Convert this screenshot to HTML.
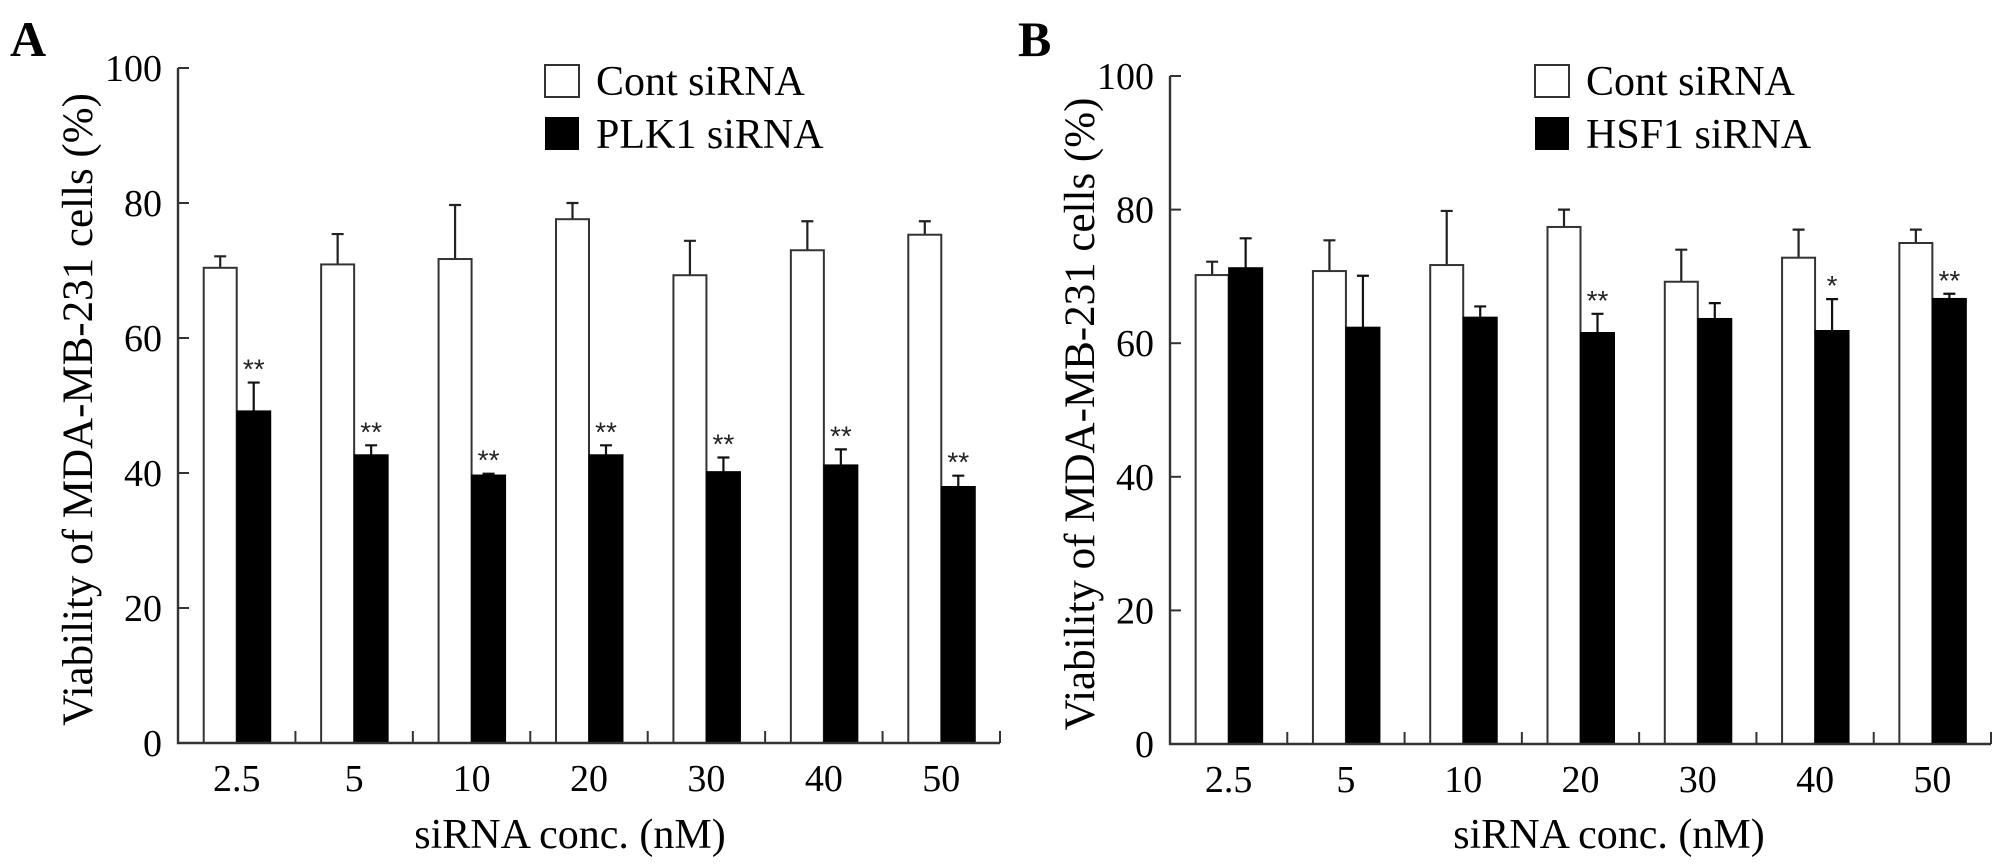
<!DOCTYPE html>
<html><head><meta charset="utf-8">
<style>
html,body{margin:0;padding:0;background:#fff;}
svg{display:block;font-family:"Liberation Serif",serif;}
</style></head>
<body>
<svg id="fig" width="2008" height="868" viewBox="0 0 2008 868" xmlns="http://www.w3.org/2000/svg"></svg>
<script>
const categories = ["2.5","5","10","20","30","40","50"];
const yTicks = [0,20,40,60,80,100];
const aContMean = [70.4,70.9,71.7,77.6,69.3,73.0,75.3];
const aContErr  = [1.7,4.5,8.0,2.4,5.1,4.3,2.0];
const aKdMean   = [49.2,42.7,39.7,42.7,40.2,41.2,38.0];
const aKdErr    = [4.2,1.4,0.2,1.4,2.1,2.3,1.6];
const aSig      = ["**","**","**","**","**","**","**"];
const bContMean = [70.2,70.8,71.7,77.4,69.2,72.8,75.0];
const bContErr  = [2.0,4.6,8.1,2.6,4.8,4.2,2.0];
const bKdMean   = [71.3,62.4,63.9,61.6,63.7,61.9,66.7];
const bKdErr    = [4.4,7.7,1.6,2.8,2.3,4.7,0.7];
const bSig      = ["","","","**","","*","**"];

const NS="http://www.w3.org/2000/svg";
const svg=document.getElementById('fig');
function mk(tag,attrs,parent){const e=document.createElementNS(NS,tag);for(const k in attrs)e.setAttribute(k,attrs[k]);(parent||svg).appendChild(e);return e;}

function panel(o){
  const g=mk('g',{});
  
  
  const y=v=>o.y0-(v/100)*(o.y0-o.y100);
  const gw=(o.xEnd-o.x0)/categories.length;
  const cx=i=>o.x0+gw*(i+0.5);
  const L=mk('text',{x:o.letterX,y:56,'font-size':50,'font-weight':'bold'},g);L.textContent=o.letter;
  
  
  for(let i=0;i<categories.length;i++){
    const c=cx(i);
    const e1=mk('path',{d:`M${c-16.5} ${y(o.cm[i])} V${y(o.cm[i]+o.ce[i])} M${c-22.5} ${y(o.cm[i]+o.ce[i])} H${c-10.5}`,stroke:'#222','stroke-width':2.2,fill:'none'},g);
    
    
    const r1=mk('rect',{x:c-33,y:y(o.cm[i]),width:33,height:o.y0-y(o.cm[i]),fill:'#fff',stroke:'#333','stroke-width':2},g);
    
    
    const e2=mk('path',{d:`M${c+17} ${y(o.km[i])} V${y(o.km[i]+o.ke[i])} M${c+11} ${y(o.km[i]+o.ke[i])} H${c+23}`,stroke:'#111','stroke-width':2.2,fill:'none'},g);
    
    
    const r2=mk('rect',{x:c,y:y(o.km[i]),width:34,height:o.y0-y(o.km[i]),fill:'#000',stroke:'#000','stroke-width':1},g);
    
    
    if(o.sig[i]){
      const s=mk('text',{x:c+17,y:y(o.km[i]+o.ke[i])-4,'font-size':28,'text-anchor':'middle','font-family':'Liberation Sans, sans-serif',fill:'#222'},g);
      s.textContent=o.sig[i];
      
      
    }
    const t=mk('text',{x:c,y:o.y0+48,'font-size':38,'text-anchor':'middle'},g);t.textContent=categories[i];
    
    
    const tk=mk('line',{x1:o.x0+gw*(i+1),x2:o.x0+gw*(i+1),y1:o.y0,y2:o.y0-12,stroke:'#333','stroke-width':2},g);
    
    
  }
  const ax=mk('path',{d:`M${o.x0} ${o.y100} V${o.y0} H${o.xEnd}`,stroke:'#333','stroke-width':2.4,fill:'none'},g);
  
  
  yTicks.forEach(v=>{
    const tl=mk('line',{x1:o.x0,x2:o.x0+11,y1:y(v),y2:y(v),stroke:'#333','stroke-width':2},g);
    
    
    const tt=mk('text',{x:o.x0-16,y:y(v)+13,'font-size':38,'text-anchor':'end'},g);tt.textContent=v;
    
    
  });
  const yt=mk('text',{x:0,y:0,'font-size':43,'text-anchor':'middle',transform:`translate(${o.ytX},${(o.y0+o.y100)/2+4}) rotate(-90)`},g);
  yt.textContent='Viability of MDA-MB-231  cells  (%)';
  
  
  const xt=mk('text',{x:o.xtX,y:848,'font-size':42,'text-anchor':'middle'},g);xt.textContent='siRNA conc. (nM)';
  
  
  const l1=mk('rect',{x:o.legX,y:65,width:34,height:32,fill:'#fff',stroke:'#333','stroke-width':2},g);
  
  
  const l1t=mk('text',{x:o.legX+51,y:95,'font-size':42},g);l1t.textContent='Cont siRNA';
  
  
  const l2=mk('rect',{x:o.legX,y:117,width:34,height:33,fill:'#000'},g);
  
  
  const l2t=mk('text',{x:o.legX+51,y:148,'font-size':42},g);l2t.textContent=o.kdName;
  
  
}
panel({id:'a',letter:'A',letterX:10,x0:178,xEnd:1000,y0:743,y100:68,cm:aContMean,ce:aContErr,km:aKdMean,ke:aKdErr,sig:aSig,ytX:92,xtX:570,legX:545,kdName:'PLK1 siRNA'});
panel({id:'b',letter:'B',letterX:1018,x0:1170,xEnd:1991,y0:744,y100:76,cm:bContMean,ce:bContErr,km:bKdMean,ke:bKdErr,sig:bSig,ytX:1094,xtX:1609,legX:1535,kdName:'HSF1 siRNA'});
</script>
</body></html>
